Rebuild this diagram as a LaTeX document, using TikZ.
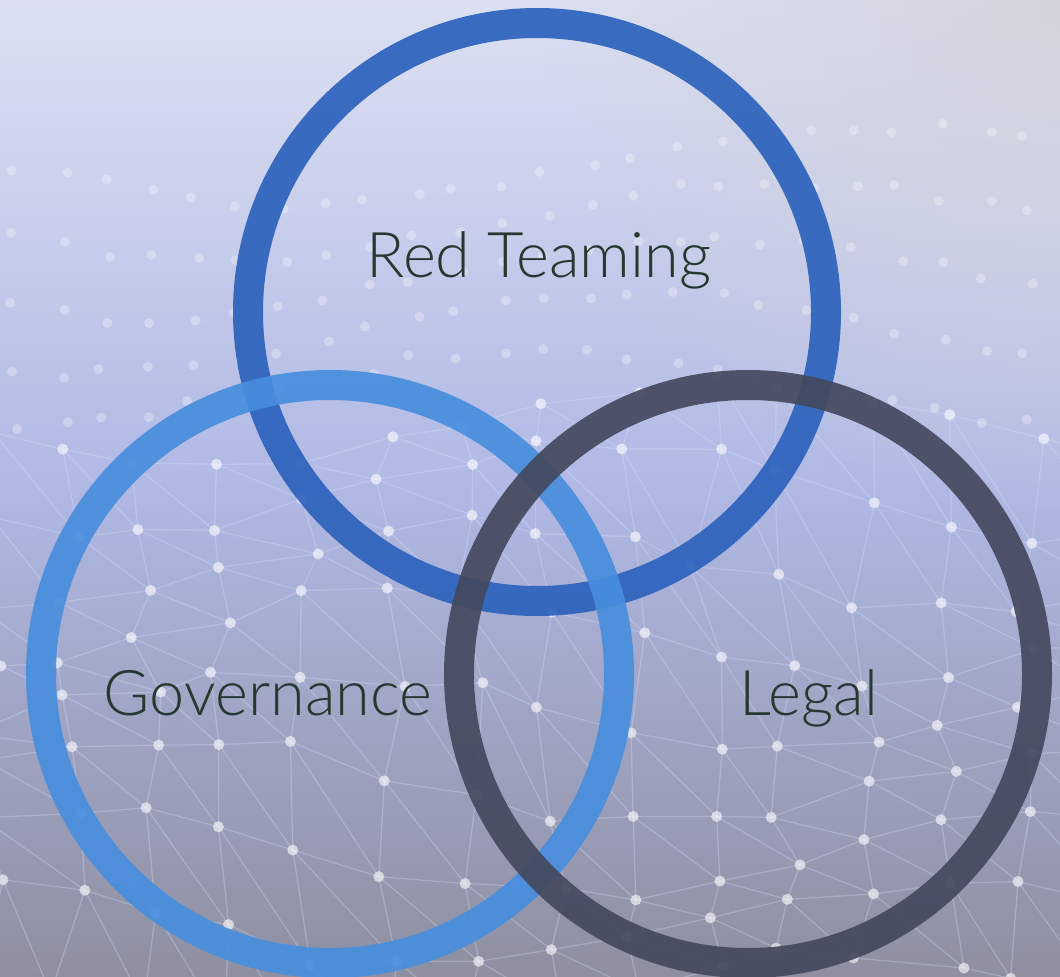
\documentclass[tikz,border=0pt]{standalone}
\usepackage{fontspec}
\setmainfont{Lato}[UprightFont=* Light]
\usetikzlibrary{fadings}

\definecolor{redteam}{RGB}{44,98,188}
\definecolor{govern}{RGB}{72,142,222}
\definecolor{legal}{RGB}{68,73,94}
\definecolor{labeltext}{RGB}{38,56,48}
\definecolor{bgtop}{RGB}{220,224,242}
\definecolor{bgmid}{RGB}{176,184,228}
\definecolor{bgbot}{RGB}{142,143,160}
\definecolor{bggray}{RGB}{210,212,220}
\definecolor{meshblue}{RGB}{215,228,255}

\tikzfading[name=fade corner, inner color=transparent!0, outer color=transparent!100]

\tikzset{
  ring/.style={circle, draw, line width=30pt, minimum size=578pt, inner sep=0pt, draw opacity=.92},
  setlabel/.style={anchor=base, text=labeltext, font=\fontsize{63}{72}\selectfont},
  meshline/.style={meshblue, line width=1.3pt, opacity=.3},
  meshdot/.style={white, opacity=.6}
}

\begin{document}
\begin{tikzpicture}[x=1pt,y=-1pt]

      % background
      \useasboundingbox (0,0) rectangle (1060,977);
      \shade[top color=bgtop, bottom color=bgbot, middle color=bgmid] (0,0) rectangle (1060,977);
      \fill[bggray, path fading=fade corner, opacity=.95] (1060,0) circle (520);

      % network mesh
      \pgfmathsetseed{11}
      \foreach \r in {0,...,8} {
        \foreach \c in {0,...,14} {
          \pgfmathsetmacro\px{\c*80 - 30 + 36*rnd}
          \pgfmathsetmacro\py{410 + \r*72 + 45*sin(\c*30 + \r*40) + 24*rnd}
          \coordinate (m-\r-\c) at (\px,\py);
        }
      }
      \foreach \r in {0,...,8} {
        \foreach \c in {0,...,13} {
          \pgfmathtruncatemacro\cn{\c+1}
          \draw[meshline] (m-\r-\c) -- (m-\r-\cn);
        }
      }
      \foreach \r in {0,...,7} {
        \pgfmathtruncatemacro\rn{\r+1}
        \foreach \c in {0,...,13} {
          \pgfmathtruncatemacro\cn{\c+1}
          \draw[meshline] (m-\r-\c) -- (m-\rn-\c);
          \draw[meshline] (m-\r-\c) -- (m-\rn-\cn);
        }
      }
      \foreach \r in {0,...,8} {
        \foreach \c in {0,...,14} {
          \fill[meshdot] (m-\r-\c) circle (5.5);
        }
      }
      \foreach \r in {0,...,4} {
        \foreach \c in {0,...,24} {
          \fill[white, opacity=.3] ({\c*44 + 10 + 14*rnd}, {160 + \r*56 + 40*sin(\c*14 + \r*25) + 12*rnd}) circle (5);
        }
      }

      % rings
      \begin{scope}[every node/.style={ring}]
        \node[draw=redteam] (red)   at (537,312) {};
        \node[draw=govern]  (gov)   at (330,674) {};
        \node[draw=legal]   (legal) at (748,674) {};
      \end{scope}

      % labels
      \begin{scope}[every node/.style={setlabel}]
        \node (redlbl)   at (539,277) {Red Teaming};
        \node (govlbl)   at (268,715) {Governance};
        \node (legallbl) at (809,715) {Legal};
      \end{scope}

    \end{tikzpicture}
\end{document}
